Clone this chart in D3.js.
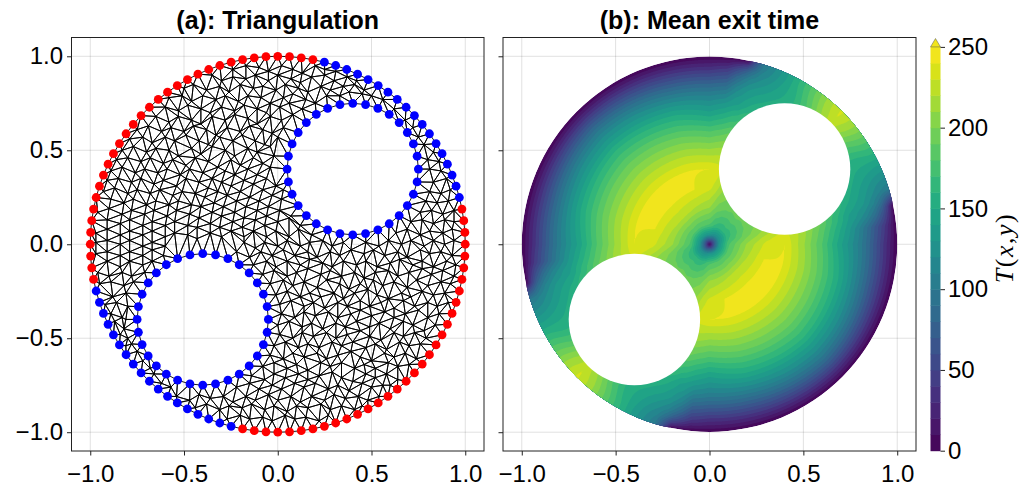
<!DOCTYPE html>
<html lang="en">
<head>
<meta charset="UTF-8">
<title>Triangulation and mean exit time</title>
<script src="https://d3js.org/d3.v7.min.js"></script>
<style>
  html, body { margin: 0; background: #fff; }
  svg { display: block; }
  text { font-family: "Liberation Sans", sans-serif; fill: #000; }
  .tick text { font-size: 24px; }
  .title { font-size: 25px; font-weight: bold; text-anchor: middle; }
  .cblabel { font-family: "Liberation Serif", serif; font-size: 26px; letter-spacing: 1.5px; text-anchor: middle; }
</style>
</head>
<body>
<svg id="chart" width="1032" height="483"></svg>
<script>
// axis ticks
const axisTicks = [-1, -0.5, 0, 0.5, 1];
const colorTicks = [0, 50, 100, 150, 200, 250];
const contourLevels = [0, 10, 20, 30, 40, 50, 60, 70, 80, 90, 100, 110, 120, 130, 140, 150, 160, 170, 180, 190, 200, 210, 220, 230, 240];

// domain geometry
const holeCenters = [[0.4, 0.4], [-0.4, -0.4]];
const holeRadius = 0.35;
const holeStepDeg = 11.25; // 32 nodes per hole
const holeSteps = [0, 1, 2, 3, 4, 5, 6, 7, 8, 9, 10, 11, 12, 13, 14, 15, 16, 17, 18, 19, 20, 21, 22, 23, 24, 25, 26, 27, 28, 29, 30, 31];
const outerStepDeg = 3.6; // 100 nodes on the outer circle
const outerRedSteps = [0, 1, 2, 3, 22, 23, 24, 25, 26, 27, 28, 29, 30, 31, 32, 33, 34, 35, 36, 37, 38, 39, 40, 41, 42, 43, 44, 45, 46, 47, 48, 49, 50, 51, 52, 53, 72, 73, 74, 75, 76, 77, 78, 79, 80, 81, 82, 83, 84, 85, 86, 87, 88, 89, 90, 91, 92, 93, 94, 95, 96, 97, 98, 99];
const outerBlueSteps = [4, 5, 6, 7, 8, 9, 10, 11, 12, 13, 14, 15, 16, 17, 18, 19, 20, 21, 54, 55, 56, 57, 58, 59, 60, 61, 62, 63, 64, 65, 66, 67, 68, 69, 70, 71];

// interior mesh nodes, x,y in hundredths, one row of the mesh per line
const meshNodes = [
  -29,94,-24,93,-17,95,-10,94,-5,92,2,95,8,93,13,91,20,95,25,93,31,92,
  -42,88,-35,90,-30,87,-24,89,-17,88,-12,90,-5,87,0,90,7,88,12,86,18,89,25,90,30,87,37,89,42,87,
  -50,83,-45,85,-38,82,-31,84,-26,81,-20,85,-13,83,-8,84,-1,82,4,85,11,83,16,81,23,84,28,82,35,84,41,85,46,82,52,83,
  -58,78,-51,79,-46,76,-40,79,-33,77,-28,79,-21,76,-16,79,-9,78,-4,75,3,78,8,80,15,77,20,75,26,79,33,79,38,81,45,80,50,79,56,77,
  -66,72,-60,73,-53,71,-48,74,-41,72,-36,70,-30,73,-23,71,-18,74,-11,72,-6,70,1,73,6,75,13,72,19,71,62,72,
  -71,67,-65,68,-58,65,-53,68,-46,66,-41,64,-35,68,-28,66,-23,69,-16,67,-11,64,-4,68,2,66,8,69,68,66,
  -75,61,-69,63,-62,60,-57,62,-50,60,-45,63,-38,61,-33,58,-27,62,-20,60,-15,63,-8,61,-3,59,3,62,72,62,75,57,
  -79,56,-72,57,-67,54,-60,57,-55,55,-49,58,-42,55,-37,53,-31,57,-24,55,-19,58,-12,55,-7,53,0,57,78,53,
  -83,50,-77,52,-70,49,-65,51,-58,50,-53,47,-46,51,-41,48,-35,52,-28,50,-23,47,-16,51,-11,49,-4,52,83,49,80,45,
  -86,45,-80,46,-73,44,-68,46,-61,43,-56,45,-49,42,-44,46,-37,44,-32,41,-25,45,-20,42,-13,46,-8,43,-2,47,86,44,
  -89,39,-83,41,-76,38,-71,40,-64,38,-59,40,-52,37,-47,40,-40,38,-35,35,-28,39,-23,37,-16,40,-11,37,-4,41,81,40,87,39,
  -91,34,-85,35,-78,33,-73,35,-66,32,-61,34,-54,31,-49,35,-42,33,-37,30,-30,33,-25,31,-18,34,-13,32,-6,35,-1,31,83,33,90,35,
  -93,28,-87,30,-80,27,-75,29,-68,27,-63,29,-56,26,-51,28,-44,27,-39,25,-32,28,-27,26,-20,28,-15,25,-8,29,-3,26,3,29,81,28,87,27,92,29,
  -95,23,-89,24,-82,22,-77,24,-70,21,-65,23,-58,21,-53,23,-46,21,-41,20,-34,22,-29,20,-22,23,-17,20,-10,23,-5,20,2,24,79,23,85,22,91,23,
  -96,17,-90,19,-83,16,-78,18,-71,16,-66,18,-59,15,-54,18,-47,16,-42,14,-35,17,-30,15,-23,17,-18,14,-11,18,-6,15,1,18,7,15,76,17,82,18,88,16,94,18,
  -97,12,-91,13,-84,11,-79,13,-72,10,-67,12,-60,10,-55,12,-48,10,-43,9,-36,11,-31,9,-24,12,-19,9,-12,13,-7,10,0,12,6,14,12,10,71,12,77,13,83,11,89,13,94,12,
  -97,6,-91,8,-84,5,-79,7,-72,5,-67,7,-60,4,-55,6,-48,5,-43,3,-36,6,-30,4,-25,7,-18,4,-13,7,-6,4,-1,7,6,4,11,8,18,5,24,7,63,6,69,8,76,5,81,7,88,6,93,8,
  -97,1,-91,2,-84,0,-79,2,-72,-1,-67,1,-60,-1,-18,1,-12,-2,-7,1,0,-1,5,2,12,-1,17,1,24,2,29,-1,35,1,42,3,47,1,54,-1,59,2,66,0,71,2,78,-1,83,2,89,0,94,2,
  -97,-5,-91,-4,-84,-6,-79,-4,-72,-6,-67,-3,-61,-6,-22,-4,-15,-7,-9,-4,-3,-6,3,-3,9,-6,16,-4,21,-7,28,-4,33,-6,39,-3,46,-5,51,-3,57,-6,64,-4,69,-7,76,-3,81,-5,87,-4,93,-6,
  -97,-10,-91,-9,-84,-12,-79,-9,-72,-11,-67,-9,-13,-11,-6,-9,-1,-12,5,-9,12,-11,17,-8,24,-10,29,-12,35,-9,42,-11,47,-9,53,-12,60,-10,65,-8,72,-11,77,-9,83,-12,90,-9,95,-11,
  -96,-15,-90,-17,-83,-15,-78,-17,-71,-15,-8,-16,-2,-14,5,-17,10,-15,16,-13,23,-16,28,-14,34,-17,41,-15,46,-18,52,-15,59,-14,64,-17,70,-15,77,-13,82,-16,88,-14,94,-17,
  -95,-21,-89,-20,-82,-22,-77,-20,-4,-21,3,-19,8,-22,14,-20,21,-23,26,-19,33,-21,38,-24,44,-21,51,-19,56,-22,62,-20,69,-23,74,-19,80,-22,87,-20,92,-21,
  -94,-26,-88,-28,-81,-26,-1,-27,5,-25,12,-28,17,-26,23,-28,30,-26,35,-29,41,-26,48,-24,53,-27,59,-29,66,-26,71,-28,77,-25,83,-27,89,-26,
  -92,-32,-86,-31,-80,-33,1,-32,7,-30,14,-33,19,-31,25,-34,32,-31,37,-33,44,-30,49,-33,55,-31,62,-34,67,-30,73,-33,80,-31,85,-33,91,-31,
  -89,-37,-83,-39,2,-37,9,-39,14,-36,20,-38,27,-36,32,-39,39,-37,44,-35,50,-38,57,-36,62,-39,68,-37,75,-35,80,-39,86,-37,91,-38,
  -87,-41,-81,-40,-82,-45,0,-43,6,-41,13,-44,18,-42,24,-45,31,-42,36,-44,42,-41,49,-44,54,-42,60,-45,67,-41,72,-43,78,-46,84,-43,89,-42,
  -84,-48,-80,-50,1,-48,8,-50,13,-47,19,-49,26,-47,31,-50,37,-48,44,-46,49,-49,55,-51,62,-47,67,-49,73,-47,79,-50,85,-48,
  -81,-54,-78,-53,-2,-54,4,-52,11,-55,16,-53,22,-55,29,-52,34,-54,40,-52,47,-55,52,-53,58,-56,65,-52,70,-54,76,-53,81,-55,
  -75,-57,-72,-62,-4,-59,3,-61,8,-58,14,-60,21,-58,26,-61,32,-59,39,-57,44,-60,50,-62,57,-58,62,-60,68,-58,74,-61,78,-59,
  -68,-66,-8,-65,-2,-63,5,-66,10,-64,16,-67,23,-63,28,-65,34,-63,41,-66,46,-64,52,-66,59,-63,64,-65,70,-64,
  -66,-69,-62,-74,-14,-70,-7,-72,-2,-69,4,-71,11,-69,16,-72,22,-70,29,-68,34,-71,40,-73,47,-69,52,-71,58,-69,64,-72,
  -57,-76,-22,-76,-15,-74,-10,-77,-3,-75,2,-77,9,-74,14,-76,20,-74,27,-77,32,-75,38,-78,45,-74,50,-76,56,-75,60,-75,
  -54,-81,-47,-83,-42,-80,-36,-82,-29,-81,-24,-84,-17,-81,-12,-83,-5,-80,0,-83,7,-81,12,-84,18,-81,25,-83,30,-80,36,-82,43,-81,48,-83,54,-81,
  -44,-87,-38,-85,-31,-88,-26,-86,-19,-87,-14,-85,-7,-88,-2,-86,5,-89,10,-86,16,-87,23,-85,28,-88,34,-86,41,-88,45,-86,
  -33,-92,-27,-93,-20,-91,-15,-93,-8,-92,-3,-94,4,-91,9,-93,15,-92,22,-94,27,-91,33,-92
];

// mean exit time, repeated by the point and mirror symmetry of the domain
const ringRadii = [1, 0.97, 0.94, 0.9, 0.85, 0.8, 0.75, 0.7, 0.6, 0.5, 0.4, 0.3, 0.2, 0.1, 0.05, 0.025, 0];
const fieldAngles = [45, 50, 55, 60, 65, 70, 73, 76, 78, 80, 84, 90, 105, 120, 135];
const exitTime45 = [232, 231, 229, 226, 222, 220, 218, 216, 214, 212, 210, 200, 192, 164, 120, 68, 5];
const exitTime50 = [215, 214, 211, 206, 202, 200, 200, 200, 205, 210, 212, 202, 190, 163, 120, 68, 5];
const exitTime55 = [190, 189, 186, 180, 176, 176, 178, 182, 195, 212, 215, 203, 189, 162, 120, 68, 5];
const exitTime60 = [165, 164, 161, 158, 156, 158, 165, 172, 195, 213, 218, 204, 190, 163, 121, 68, 5];
const exitTime65 = [140, 140, 142, 145, 150, 158, 165, 178, 198, 214, 221, 205, 190, 164, 122, 70, 5];
const exitTime70 = [115, 118, 122, 130, 140, 150, 160, 174, 197, 215, 225, 208, 193, 166, 123, 70, 5];
const exitTime73 = [100, 105, 112, 122, 135, 145, 155, 170, 195, 215, 226, 210, 195, 168, 124, 70, 5];
const exitTime76 = [50, 70, 92, 112, 128, 138, 148, 165, 192, 215, 228, 212, 196, 168, 124, 70, 5];
const exitTime78 = [3, 45, 75, 100, 120, 132, 142, 160, 190, 215, 230, 215, 198, 170, 125, 70, 5];
const exitTime80 = [0, 35, 62, 88, 112, 128, 140, 158, 190, 215, 232, 218, 200, 172, 126, 70, 5];
const exitTime84 = [0, 20, 40, 62, 88, 112, 132, 150, 185, 215, 236, 226, 205, 175, 128, 72, 5];
const exitTime90 = [0, 16, 32, 55, 82, 106, 125, 142, 180, 212, 240, 233, 212, 178, 130, 72, 5];
const exitTime105 = [0, 17, 34, 57, 85, 111, 134, 154, 187, 216, 241, 240, 216, 180, 130, 72, 5];
const exitTime120 = [0, 18, 37, 62, 92, 118, 138, 158, 190, 217, 241, 242, 220, 180, 132, 72, 5];
const exitTime135 = [0, 20, 40, 68, 98, 122, 142, 162, 192, 218, 241, 243, 222, 182, 132, 72, 5];
const exitTimeColumns = [exitTime45, exitTime50, exitTime55, exitTime60, exitTime65, exitTime70, exitTime73, exitTime76, exitTime78, exitTime80, exitTime84, exitTime90, exitTime105, exitTime120, exitTime135];

const svg = d3.select('#chart');
const xA = d3.scaleLinear().domain([-1.1, 1.1]).range([71.5, 484]);
const xB = d3.scaleLinear().domain([-1.1, 1.1]).range([503, 916]);
const yS = d3.scaleLinear().domain([-1.1, 1.1]).range([451, 37.5]);
const cbY = d3.scaleLinear().domain([0, 250]).range([450.7, 46.9]);
const levelColor = l => d3.interpolateViridis((l + 5) / 250);
const fmt = d => d3.format('.1f')(d).replace('-', '\u2212');

function gridLines(g, x) {
  g.selectAll('.gx').data(axisTicks).join('line').attr('class', 'gx')
    .attr('x1', x).attr('x2', x).attr('y1', yS.range()[1]).attr('y2', yS.range()[0])
    .attr('stroke', '#000').attr('stroke-opacity', 0.12);
  g.selectAll('.gy').data(axisTicks).join('line').attr('class', 'gy')
    .attr('y1', yS).attr('y2', yS).attr('x1', x.range()[0]).attr('x2', x.range()[1])
    .attr('stroke', '#000').attr('stroke-opacity', 0.12);
}

function frameAndAxes(x, showY) {
  const left = d3.axisLeft(yS).tickValues(axisTicks).tickSize(4.5).tickSizeOuter(0).tickPadding(4)
    .tickFormat(showY ? fmt : '');
  const bottom = d3.axisBottom(x).tickValues(axisTicks).tickSize(4.5).tickSizeOuter(0).tickPadding(9).tickFormat(fmt);
  svg.append('g').attr('transform', `translate(${x.range()[0]},0)`).call(left).call(g => g.select('.domain').remove());
  svg.append('g').attr('transform', `translate(0,${yS.range()[0]})`).call(bottom).call(g => g.select('.domain').remove());
  svg.selectAll('.tick line').attr('stroke', '#222');
  svg.append('rect').attr('x', x.range()[0]).attr('y', yS.range()[1])
    .attr('width', x.range()[1] - x.range()[0]).attr('height', yS.range()[0] - yS.range()[1])
    .attr('fill', 'none').attr('stroke', '#222').attr('stroke-width', 1);
}

// panel (a): nodes and triangles
const polar = (c, r, deg) => [c[0] + r * Math.cos(deg * Math.PI / 180), c[1] + r * Math.sin(deg * Math.PI / 180)];
const redNodes = outerRedSteps.map(k => polar([0, 0], 1, k * outerStepDeg));
const blueNodes = outerBlueSteps.map(k => polar([0, 0], 1, k * outerStepDeg))
  .concat(...holeCenters.map(c => holeSteps.map(k => polar(c, holeRadius, k * holeStepDeg))));

const holeDist = p => d3.min(holeCenters, c => Math.hypot(p[0] - c[0], p[1] - c[1]));
const interior = d3.range(0, meshNodes.length, 2)
  .map(i => [meshNodes[i] / 100, meshNodes[i + 1] / 100])
  .filter(p => Math.hypot(p[0], p[1]) < 0.975 && holeDist(p) > holeRadius + 0.028);
const allNodes = redNodes.concat(blueNodes, interior);
const delaunay = d3.Delaunay.from(allNodes);

let meshPath = '';
for (let t = 0; t < delaunay.triangles.length; t += 3) {
  const tri = [delaunay.triangles[t], delaunay.triangles[t + 1], delaunay.triangles[t + 2]].map(i => allNodes[i]);
  const centroid = [d3.mean(tri, p => p[0]), d3.mean(tri, p => p[1])];
  if (holeDist(centroid) < holeRadius) continue;
  meshPath += 'M' + tri.map(p => `${xA(p[0])},${yS(p[1])}`).join('L') + 'Z';
}

const panelA = svg.append('g');
gridLines(panelA, xA);
panelA.append('path').attr('d', meshPath).attr('fill', 'none').attr('stroke', '#000').attr('stroke-width', 0.9);
panelA.selectAll('.red').data(redNodes).join('circle').attr('class', 'red')
  .attr('cx', d => xA(d[0])).attr('cy', d => yS(d[1])).attr('r', 4.4).attr('fill', '#f00');
panelA.selectAll('.blue').data(blueNodes).join('circle').attr('class', 'blue')
  .attr('cx', d => xA(d[0])).attr('cy', d => yS(d[1])).attr('r', 4.4).attr('fill', '#00f');
frameAndAxes(xA, true);

// panel (b): filled contours of the table above
function locate(list, v) {
  const i = Math.min(d3.bisectRight(list, v), list.length - 1);
  const lo = Math.max(i - 1, 0);
  return [lo, list[i] === list[lo] ? 0 : (v - list[lo]) / (list[i] - list[lo])];
}
const ringsUp = ringRadii.slice().reverse();
function exitTime(x, y) {
  const r = Math.min(Math.hypot(x, y), 1);
  let t = (((Math.atan2(y, x) * 180 / Math.PI - 45) % 180) + 180) % 180;
  if (t > 90) t = 180 - t;
  const [ai, af] = locate(fieldAngles, 45 + t);
  const [ri, rf] = locate(ringsUp, r);
  const col = j => {
    const c = exitTimeColumns[j];
    const n = c.length - 1;
    return c[n - ri] * (1 - rf) + c[Math.max(n - ri - 1, 0)] * rf;
  };
  return col(ai) * (1 - af) + col(Math.min(ai + 1, fieldAngles.length - 1)) * af;
}

const gridN = 330;
const lim = 1.02;
const gridVals = new Float64Array(gridN * gridN);
for (let j = 0; j < gridN; j++) {
  for (let i = 0; i < gridN; i++) {
    gridVals[j * gridN + i] = exitTime(-lim + 2 * lim * i / (gridN - 1), lim - 2 * lim * j / (gridN - 1));
  }
}
const sx = d3.scaleLinear().domain([0.5, gridN - 0.5]).range([xB(-lim), xB(lim)]);
const sy = d3.scaleLinear().domain([0.5, gridN - 0.5]).range([yS(lim), yS(-lim)]);
const gridPath = d3.geoPath(d3.geoTransform({ point(x, y) { this.stream.point(sx(x), sy(y)); } }));
const bands = d3.contours().size([gridN, gridN]).thresholds(contourLevels.slice(1))(gridVals);

const panelB = svg.append('g');
gridLines(panelB, xB);
svg.append('clipPath').attr('id', 'disk').append('circle')
  .attr('cx', xB(0)).attr('cy', yS(0)).attr('r', xB(1) - xB(0));
const field = panelB.append('g').attr('clip-path', 'url(#disk)');
field.append('circle').attr('cx', xB(0)).attr('cy', yS(0)).attr('r', xB(1) - xB(0)).attr('fill', levelColor(0));
field.selectAll('.band').data(bands).join('path').attr('class', 'band')
  .attr('d', gridPath).attr('fill', d => levelColor(d.value));
panelB.selectAll('.hole').data(holeCenters).join('circle').attr('class', 'hole')
  .attr('cx', d => xB(d[0])).attr('cy', d => yS(d[1])).attr('r', xB(holeRadius) - xB(0)).attr('fill', '#fff');
frameAndAxes(xB, false);

// titles
svg.append('text').attr('class', 'title').attr('x', xA(0)).attr('y', 29).text('(a): Triangulation');
svg.append('text').attr('class', 'title').attr('x', xB(0)).attr('y', 29).text('(b): Mean exit time');

// colorbar
const cbLeft = 930.5, cbRight = 940.5;
svg.selectAll('.cb').data(contourLevels).join('rect').attr('class', 'cb')
  .attr('x', cbLeft).attr('width', cbRight - cbLeft)
  .attr('y', d => cbY(d + 10)).attr('height', d => cbY(d) - cbY(d + 10) + 0.5)
  .attr('fill', levelColor);
svg.append('path')
  .attr('d', `M${cbLeft},${cbY(250)}L${(cbLeft + cbRight) / 2},38.5L${cbRight},${cbY(250)}Z`)
  .attr('fill', levelColor(240)).attr('stroke', '#555').attr('stroke-width', 0.5);
svg.append('g').attr('transform', `translate(${cbRight},0)`)
  .call(d3.axisRight(cbY).tickValues(colorTicks).tickSize(4.5).tickSizeOuter(0).tickPadding(3).tickFormat(d3.format('d')))
  .call(g => g.select('.domain').remove())
  .call(g => g.selectAll('line').attr('stroke', '#222'));

const label = svg.append('text').attr('class', 'cblabel').attr('transform', 'translate(1013,248) rotate(-90)');
label.append('tspan').attr('font-style', 'italic').text('T');
label.append('tspan').text('(');
label.append('tspan').attr('font-style', 'italic').text('x');
label.append('tspan').text(',');
label.append('tspan').attr('font-style', 'italic').text('y');
label.append('tspan').text(')');
</script>
</body>
</html>
